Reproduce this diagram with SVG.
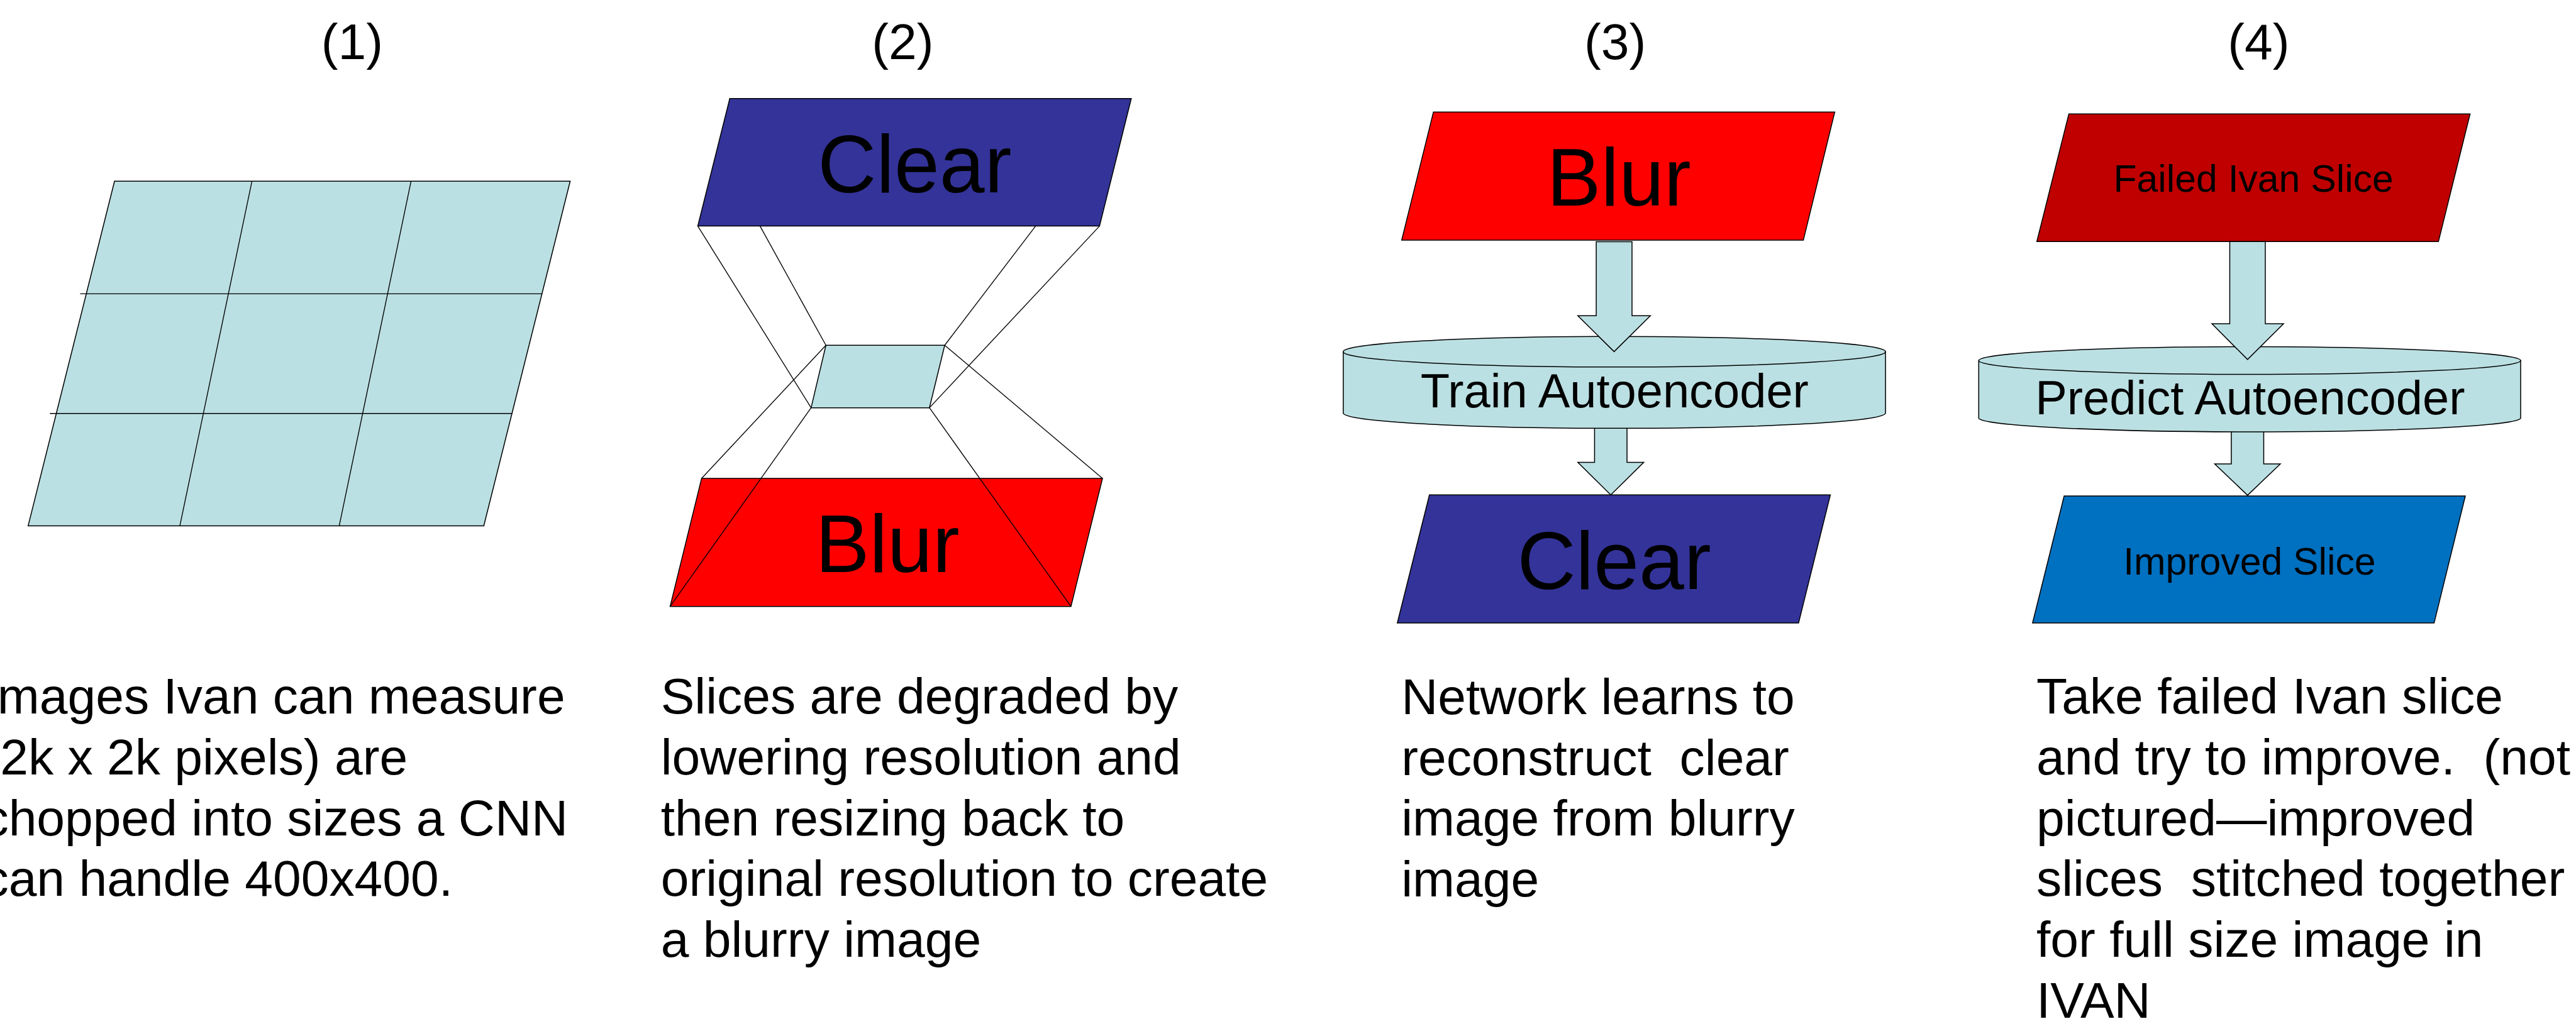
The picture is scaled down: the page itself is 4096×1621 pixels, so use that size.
<svg xmlns="http://www.w3.org/2000/svg" width="4096" height="1621" viewBox="0 0 4096 1621">
<style>
.t{font-family:"Liberation Sans",Arial,sans-serif;fill:#000;white-space:pre}
.c{text-anchor:middle}
.lb{fill:#BBE0E3;stroke:#000;stroke-width:2;stroke-linejoin:miter}
.ln{fill:none;stroke:#000;stroke-width:1.8}
.sh{stroke:#000;stroke-width:2}
.num{font-size:106px}
.big{font-size:170px}
.mid{font-size:100px}
.sm{font-size:80px}
.body{font-size:106px}
</style>
<rect width="4096" height="1621" fill="#fff"/>
<g transform="scale(0.75866)">
  <!-- panel labels -->
  <g id="labels">
    <text class="t c num" x="738" y="124">(1)</text>
    <text class="t c num" x="1892" y="124">(2)</text>
    <text class="t c num" x="3385" y="124">(3)</text>
    <text class="t c num" x="4734" y="124">(4)</text>
  </g>

  <!-- panel 1: grid -->
  <g id="grid">
    <polygon class="lb" points="240,380 1195,380 1014,1102.5 59,1102.5"/>
    <line class="ln" x1="168" y1="616" x2="1136" y2="616"/>
    <line class="ln" x1="104.5" y1="867" x2="1074" y2="867"/>
    <line class="ln" x1="528" y1="380" x2="377" y2="1102.5"/>
    <line class="ln" x1="861.5" y1="380" x2="711" y2="1102.5"/>
  </g>

  <!-- panel 2 -->
  <g id="p2-clear">
    <polygon class="sh" fill="#333399" points="1529.5,206.6 2371,206.6 2304.5,474 1462.5,474"/>
    <text class="t c big" x="1917" y="403">Clear</text>
  </g>
  <g id="p2-blur">
    <polygon class="sh" fill="#FF0000" points="1470.5,1003 2310.7,1003 2244.6,1271.6 1404.5,1271.6"/>
    <text class="t c big" x="1860" y="1199">Blur</text>
  </g>
  <g id="p2-slice">
    <polygon class="lb" points="1731,724 1980,724 1948,855 1700,855"/>
  </g>
  <g id="p2-connectors">
    <line class="ln" x1="1462.5" y1="474" x2="1700" y2="855"/>
    <line class="ln" x1="1592.9" y1="474" x2="1731" y2="724"/>
    <line class="ln" x1="2170.5" y1="474" x2="1980" y2="724"/>
    <line class="ln" x1="2304.5" y1="474" x2="1948" y2="855"/>
    <line class="ln" x1="1731" y1="724" x2="1470.5" y2="1003"/>
    <line class="ln" x1="1700" y1="855" x2="1404.5" y2="1271.6"/>
    <line class="ln" x1="1980" y1="724" x2="2310.7" y2="1003"/>
    <line class="ln" x1="1948" y1="855" x2="2244.6" y2="1271.6"/>
  </g>

  <!-- panel 3 -->
  <g id="p3-blur">
    <polygon class="sh" fill="#FF0000" points="3004.3,235 3845.4,235 3779.6,503.6 2937.8,503.6"/>
    <text class="t c big" x="3393" y="431">Blur</text>
  </g>
  <g id="p3-clear">
    <polygon class="sh" fill="#333399" points="2995.9,1037.7 3836.2,1037.7 3769.6,1306.4 2928.6,1306.4"/>
    <text class="t c big" x="3383" y="1235">Clear</text>
  </g>
  <g id="p3-arrow2">
    <polygon class="lb" points="3342,885 3410,885 3410,969.6 3445,969.6 3376,1037.7 3307,969.6 3342,969.6"/>
  </g>
  <g id="p3-train">
    <path class="lb" d="M2815.3,737.5 L2815.3,866.5 A568.3,32 0 0 0 3951.8,866.5 L3951.8,737.5 Z"/>
    <ellipse class="lb" cx="3383.5" cy="737.5" rx="568.3" ry="32"/>
    <text class="t c mid" x="3384" y="854">Train Autoencoder</text>
  </g>
  <g id="p3-arrow1">
    <polygon class="lb" points="3345.5,506.7 3420.5,506.7 3420.5,662 3459,662 3383,737.3 3307,662 3345.5,662"/>
  </g>

  <!-- panel 4 -->
  <g id="p4-failed">
    <polygon class="sh" fill="#C00000" points="4336.1,238.8 5177,238.8 5110.7,506.6 4269,506.6"/>
    <text class="t c sm" x="4723" y="402.5">Failed Ivan Slice</text>
  </g>
  <g id="p4-improved">
    <polygon class="sh" fill="#0070C0" points="4326.2,1040 5167,1040 5101.6,1306.4 4260,1306.4"/>
    <text class="t c sm" x="4714.7" y="1204.6">Improved Slice</text>
  </g>
  <g id="p4-arrow2">
    <polygon class="lb" points="4676.5,890 4744.5,890 4744.5,972.7 4779.3,972.7 4710.6,1038.5 4641.8,972.7 4676.5,972.7"/>
  </g>
  <g id="p4-predict">
    <path class="lb" d="M4147.2,756 L4147.2,877 A568,29 0 0 0 5283,877 L5283,756 Z"/>
    <ellipse class="lb" cx="4715.1" cy="756" rx="567.9" ry="29"/>
    <text class="t c mid" x="4716" y="868">Predict Autoencoder</text>
  </g>
  <g id="p4-arrow1">
    <polygon class="lb" points="4673.3,506.6 4747.8,506.6 4747.8,678.8 4786,678.8 4710.6,753.8 4636,678.8 4673.3,678.8"/>
  </g>

  <!-- captions -->
  <g id="caption1">
    <text class="t body" x="-35" y="1496">Images Ivan can measure</text>
    <text class="t body" x="-35" y="1623.6">(2k x 2k pixels) are</text>
    <text class="t body" x="-35" y="1751.2">chopped into sizes a CNN</text>
    <text class="t body" x="-35" y="1878.8">can handle 400x400.</text>
  </g>
  <g id="caption2">
    <text class="t body" x="1385" y="1496">Slices are degraded by</text>
    <text class="t body" x="1385" y="1623.6">lowering resolution and</text>
    <text class="t body" x="1385" y="1751.2">then resizing back to</text>
    <text class="t body" x="1385" y="1878.8">original resolution to create</text>
    <text class="t body" x="1385" y="2006.4">a blurry image</text>
  </g>
  <g id="caption3">
    <text class="t body" x="2937" y="1497">Network learns to</text>
    <text class="t body" x="2937" y="1624.6">reconstruct  clear</text>
    <text class="t body" x="2937" y="1752.2">image from blurry</text>
    <text class="t body" x="2937" y="1879.8">image</text>
  </g>
  <g id="caption4">
    <text class="t body" x="4268" y="1496">Take failed Ivan slice</text>
    <text class="t body" x="4268" y="1623.6">and try to improve.  (not</text>
    <text class="t body" x="4268" y="1751.2">pictured—improved</text>
    <text class="t body" x="4268" y="1878.8">slices  stitched together</text>
    <text class="t body" x="4268" y="2006.4">for full size image in</text>
    <text class="t body" x="4268" y="2134">IVAN</text>
  </g>
</g>
</svg>
